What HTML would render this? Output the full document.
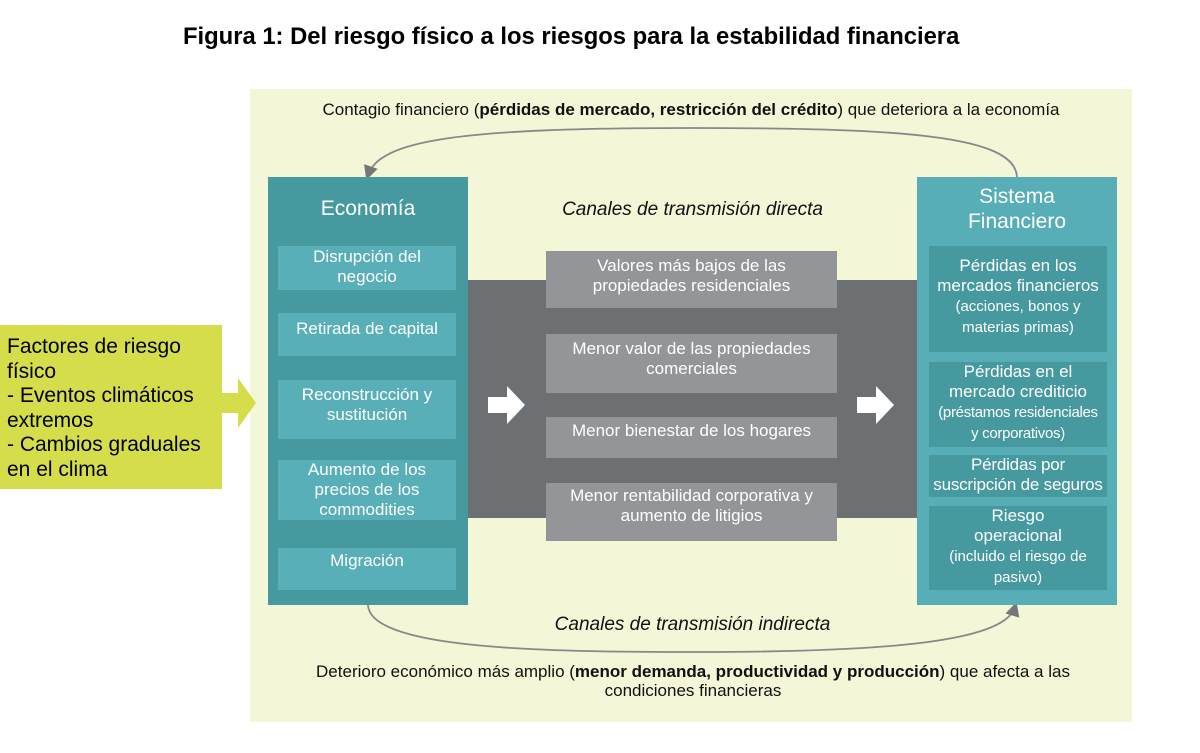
<!DOCTYPE html>
<html><head><meta charset="utf-8"><style>
*{margin:0;padding:0;box-sizing:border-box}
body{width:1200px;height:753px;background:#fff;position:relative;font-family:"Liberation Sans",sans-serif;overflow:hidden}
.a{position:absolute}
.c{text-align:center;color:#fff;line-height:20px;font-size:17px}
.li{background:#58afb7}
.ri{background:#45999f}
.g{background:#939598}
.s{font-size:15px;line-height:20px}
</style></head><body>
<div class="a" style="left:183px;top:23px;font-size:23.8px;font-weight:bold;color:#000;white-space:nowrap">Figura 1: Del riesgo físico a los riesgos para la estabilidad financiera</div>
<div class="a" style="left:250px;top:89px;width:882px;height:633px;background:#f4f6d8"></div>
<div class="a" style="left:250px;top:100px;width:882px;text-align:center;font-size:17px;color:#111;white-space:nowrap">Contagio financiero (<b>pérdidas de mercado, restricción del crédito</b>) que deteriora a la economía</div>
<svg class="a" style="left:0;top:0" width="1200" height="753">
<defs><marker id="m" markerWidth="8" markerHeight="8" refX="5" refY="4" orient="auto"><path d="M0,0 L8,4 L0,8 Z" fill="#777"/></marker></defs>
<path d="M1017,177 C1015,135 900,128 690,128 C460,128 380,140 368,175" fill="none" stroke="#888" stroke-width="1.8" marker-end="url(#m)"/>
<path d="M368,605 C370,650 550,652 700,652 C900,652 1005,640 1015,607" fill="none" stroke="#888" stroke-width="1.8" marker-end="url(#m)"/>
<polygon points="222,393 238,393 238,378 256,403 238,428 238,413 222,413" fill="#d5dd4b"/>
</svg>
<div class="a" style="left:0;top:325px;width:222px;height:164px;background:#d5dd4b;padding:10px 14px 0 7px;font-size:21px;line-height:24.5px;color:#000">Factores de riesgo físico<br>- Eventos climáticos extremos<br>- Cambios graduales en el clima</div>
<div class="a" style="left:468px;top:280px;width:449px;height:238px;background:#6d7073"></div>
<svg class="a" style="left:0;top:0" width="1200" height="753"><polygon points="488,397 507,397 507,386 525,405 507,424 507,413 488,413" fill="#fff"/><polygon points="857,397 876,397 876,386 894,405 876,424 876,413 857,413" fill="#fff"/></svg>
<div class="a" style="left:268px;top:177px;width:200px;height:428px;background:#45999f"></div>
<div class="a c" style="left:268px;top:199px;width:200px;font-size:21px">Economía</div>
<div class="a c li" style="left:278px;top:246px;width:178px;height:44px;padding-top:1px">Disrupción del<br>negocio</div>
<div class="a c li" style="left:278px;top:313px;width:178px;height:43px;padding-top:6px">Retirada de capital</div>
<div class="a c li" style="left:278px;top:380px;width:178px;height:59px;padding-top:5px">Reconstrucción y<br>sustitución</div>
<div class="a c li" style="left:278px;top:460px;width:178px;height:60px">Aumento de los<br>precios de los<br>commodities</div>
<div class="a c li" style="left:278px;top:548px;width:178px;height:42px;padding-top:3px">Migración</div>
<div class="a" style="left:468px;top:199px;width:449px;text-align:center;font-size:19px;font-style:italic;color:#111">Canales de transmisión directa</div>
<div class="a c g" style="left:546px;top:251px;width:291px;height:57px;padding-top:5px">Valores más bajos de las<br>propiedades residenciales</div>
<div class="a c g" style="left:546px;top:334px;width:291px;height:59px;padding-top:5px">Menor valor de las propiedades<br>comerciales</div>
<div class="a c g" style="left:546px;top:417px;width:291px;height:41px;padding-top:4px">Menor bienestar de los hogares</div>
<div class="a c g" style="left:546px;top:483px;width:291px;height:58px;padding-top:3px">Menor rentabilidad corporativa y<br>aumento de litigios</div>
<div class="a" style="left:917px;top:177px;width:200px;height:428px;background:#58aeb7"></div>
<div class="a c" style="left:917px;top:184px;width:200px;font-size:21px;line-height:25px">Sistema<br>Financiero</div>
<div class="a c ri" style="left:929px;top:246px;width:178px;height:106px;padding-top:10px">Pérdidas en los<br>mercados financieros<br><span class="s">(acciones, bonos y<br>materias primas)</span></div>
<div class="a c ri" style="left:929px;top:362px;width:178px;height:85px">Pérdidas en el<br>mercado crediticio<br><span class="s" style="letter-spacing:-0.3px">(préstamos residenciales<br>y corporativos)</span></div>
<div class="a c ri" style="left:929px;top:455px;width:178px;height:42px;white-space:nowrap;letter-spacing:-0.2px">Pérdidas por<br>suscripción de seguros</div>
<div class="a c ri" style="left:929px;top:506px;width:178px;height:84px">Riesgo<br>operacional<br><span class="s">(incluido el riesgo de<br>pasivo)</span></div>
<div class="a" style="left:468px;top:614px;width:449px;text-align:center;font-size:19px;font-style:italic;color:#111">Canales de transmisión indirecta</div>
<div class="a" style="left:270px;top:662px;width:846px;text-align:center;font-size:17px;line-height:19px;color:#111">Deterioro económico más amplio (<b>menor demanda, productividad y producción</b>) que afecta a las<br>condiciones financieras</div>
</body></html>
